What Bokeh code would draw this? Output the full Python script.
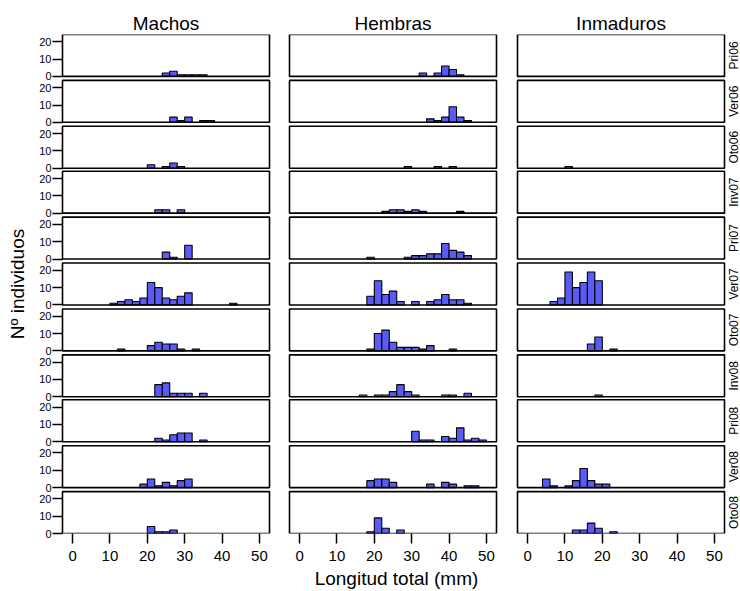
import math
from bokeh.plotting import figure
from bokeh.models import (Range1d, FixedTicker, ColumnDataSource, LinearAxis,
                          AllLabels)
from bokeh.core.properties import value
from bokeh.embed import file_html
from bokeh.resources import INLINE

seasons = ["Pri06", "Ver06", "Oto06", "Inv07", "Pri07", "Ver07",
           "Oto07", "Inv08", "Pri08", "Ver08", "Oto08"]
groups = ["Machos", "Hembras", "Inmaduros"]

# left edges of the 2-mm length classes (0-2, 2-4, ..., 48-50)
bin_starts = [0, 2, 4, 6, 8, 10, 12, 14, 16, 18, 20, 22, 24,
              26, 28, 30, 32, 34, 36, 38, 40, 42, 44, 46, 48]
bin_width = 2

machos = {
    "Pri06": [0,0,0,0,0,0,0,0,0,0,0,0,2,3,1,1,1,1,0,0,0,0,0,0,0],
    "Ver06": [0,0,0,0,0,0,0,0,0,0,0,0,0,3,1,3,0,1,1,0,0,0,0,0,0],
    "Oto06": [0,0,0,0,0,0,0,0,0,0,2,0,1,3,1,0,0,0,0,0,0,0,0,0,0],
    "Inv07": [0,0,0,0,0,0,0,0,0,0,0,2,2,0,2,0,0,0,0,0,0,0,0,0,0],
    "Pri07": [0,0,0,0,0,0,0,0,0,0,0,0,4,1,0,8,0,0,0,0,0,0,0,0,0],
    "Ver07": [0,0,0,0,0,1,2,3,2,4,13,10,4,3,5,7,0,0,0,0,0,1,0,0,0],
    "Oto07": [0,0,0,0,0,0,1,0,0,0,3,5,4,4,1,0,1,0,0,0,0,0,0,0,0],
    "Inv08": [0,0,0,0,0,0,0,0,0,0,0,7,8,2,2,2,0,2,0,0,0,0,0,0,0],
    "Pri08": [0,0,0,0,0,0,0,0,0,0,0,2,1,4,5,5,0,1,0,0,0,0,0,0,0],
    "Ver08": [0,0,0,0,0,0,0,0,0,2,5,1,3,1,4,5,0,0,0,0,0,0,0,0,0],
    "Oto08": [0,0,0,0,0,0,0,0,0,0,4,1,1,2,0,0,0,0,0,0,0,0,0,0,0],
}

hembras = {
    "Pri06": [0,0,0,0,0,0,0,0,0,0,0,0,0,0,0,0,2,0,2,6,4,1,0,0,0],
    "Ver06": [0,0,0,0,0,0,0,0,0,0,0,0,0,0,0,0,0,2,1,3,9,3,1,0,0],
    "Oto06": [0,0,0,0,0,0,0,0,0,0,0,0,0,0,1,0,0,0,1,0,1,0,0,0,0],
    "Inv07": [0,0,0,0,0,0,0,0,0,0,0,1,2,2,1,2,1,0,0,0,0,1,0,0,0],
    "Pri07": [0,0,0,0,0,0,0,0,0,1,0,0,0,0,1,2,2,3,3,9,5,4,2,0,0],
    "Ver07": [0,0,0,0,0,0,0,0,0,5,14,6,8,2,0,2,0,2,3,6,3,3,1,0,0],
    "Oto07": [0,0,0,0,0,0,0,0,0,1,10,12,5,2,2,2,1,3,0,0,1,0,0,0,0],
    "Inv08": [0,0,0,0,0,0,0,0,1,0,1,1,3,7,3,1,0,0,0,1,1,0,2,0,0],
    "Pri08": [0,0,0,0,0,0,0,0,0,0,0,0,0,0,0,6,1,1,0,3,2,8,1,2,1],
    "Ver08": [0,0,0,0,0,0,0,0,0,4,5,5,3,0,0,0,0,2,0,3,2,0,1,1,0],
    "Oto08": [0,0,0,0,0,0,0,0,0,1,9,3,0,2,0,0,0,0,0,0,0,0,0,0,0],
}

inmaduros = {
    "Pri06": [0,0,0,0,0,0,0,0,0,0,0,0,0,0,0,0,0,0,0,0,0,0,0,0,0],
    "Ver06": [0,0,0,0,0,0,0,0,0,0,0,0,0,0,0,0,0,0,0,0,0,0,0,0,0],
    "Oto06": [0,0,0,0,0,1,0,0,0,0,0,0,0,0,0,0,0,0,0,0,0,0,0,0,0],
    "Inv07": [0,0,0,0,0,0,0,0,0,0,0,0,0,0,0,0,0,0,0,0,0,0,0,0,0],
    "Pri07": [0,0,0,0,0,0,0,0,0,0,0,0,0,0,0,0,0,0,0,0,0,0,0,0,0],
    "Ver07": [0,0,0,2,4,19,10,13,19,14,0,0,0,0,0,0,0,0,0,0,0,0,0,0,0],
    "Oto07": [0,0,0,0,0,0,0,0,4,8,0,1,0,0,0,0,0,0,0,0,0,0,0,0,0],
    "Inv08": [0,0,0,0,0,0,0,0,0,1,0,0,0,0,0,0,0,0,0,0,0,0,0,0,0],
    "Pri08": [0,0,0,0,0,0,0,0,0,0,0,0,0,0,0,0,0,0,0,0,0,0,0,0,0],
    "Ver08": [0,0,5,1,0,1,4,11,4,2,2,0,0,0,0,0,0,0,0,0,0,0,0,0,0],
    "Oto08": [0,0,0,0,0,0,2,2,6,3,0,1,0,0,0,0,0,0,0,0,0,0,0,0,0],
}

x_ticks = [0, 10, 20, 30, 40, 50]
y_ticks = [0, 10, 20]
x_title = "Longitud total (mm)"
y_title = "Nº individuos"

FONT = "Liberation Sans"
BAR_FILL = "#5A5AF6"

# ---- panel layout (pixels) -------------------------------------------
W, H = 740, 591
FR_L, FR_R, FR_T, FR_B = 52, 740, 34, 534       # plotting frame
PANEL_W, PANEL_H = 207, 42
col_px = [62, 289, 517]                           # panel left edges
row_pitch_px = 45.8
STRIP_PX = 733                                    # centre of strip labels
X_LO, X_HI = -2.7, 52.7                           # panel x range (mm)
Y_LO, Y_HI = 0.0, 24.2                            # panel y range (count)

px_mm = PANEL_W / (X_HI - X_LO)
px_cnt = PANEL_H / (Y_HI - Y_LO)
col_off = [(cx - col_px[0]) / px_mm for cx in col_px]
row_top_px = [FR_T + round(r * row_pitch_px) for r in range(len(seasons))]
row_off = [(FR_B - (t + PANEL_H)) / px_cnt for t in row_top_px]

p = figure(
    width=W, height=H,
    x_range=Range1d(X_LO + (FR_L - col_px[0]) / px_mm,
                    X_LO + (FR_R - col_px[0]) / px_mm),
    y_range=Range1d(Y_LO, Y_LO + (FR_B - FR_T) / px_cnt),
    x_axis_location="below", y_axis_location="left",
    toolbar_location=None, output_backend="svg",
    min_border_left=FR_L, min_border_right=W - FR_R,
    min_border_top=FR_T, min_border_bottom=H - FR_B,
)
p.grid.visible = False
p.outline_line_color = None
p.background_fill_color = "white"
p.border_fill_color = "white"

data_by_group = [machos, hembras, inmaduros]

# panel boxes and bars
box_l, box_r, box_b, box_t = [], [], [], []
bar_l, bar_r, bar_b, bar_t = [], [], [], []
for r, season in enumerate(seasons):
    for c, grp in enumerate(groups):
        box_l.append(X_LO + col_off[c]); box_r.append(X_HI + col_off[c])
        box_b.append(Y_LO + row_off[r]); box_t.append(Y_HI + row_off[r])
        for b, n in zip(bin_starts, data_by_group[c][season]):
            if n > 0:
                bar_l.append(b + col_off[c])
                bar_r.append(b + bin_width + col_off[c])
                bar_b.append(row_off[r])
                bar_t.append(n + row_off[r])

p.quad(left="l", right="r", bottom="b", top="t",
       source=ColumnDataSource(dict(l=bar_l, r=bar_r, b=bar_b, t=bar_t)),
       fill_color=BAR_FILL, line_color="black", line_width=1.1)
p.quad(left="l", right="r", bottom="b", top="t",
       source=ColumnDataSource(dict(l=box_l, r=box_r, b=box_b, t=box_t)),
       fill_color=None, line_color="black", line_width=1.6)

# strip labels (season) to the right of the last column
strip_x = X_LO + (STRIP_PX - col_px[0]) / px_mm
p.text(x=[strip_x] * len(seasons),
       y=[(Y_LO + Y_HI) / 2 + o for o in row_off],
       text=seasons, angle=math.pi / 2,
       text_align="center", text_baseline="middle",
       text_font=value(FONT), text_font_size="12px", text_color="black")


def style_axis(ax, size, tick_out, tick_in=0):
    ax.axis_line_color = None
    ax.major_tick_out = tick_out
    ax.major_tick_in = tick_in
    ax.minor_tick_out = 0
    ax.minor_tick_in = 0
    ax.major_tick_line_color = "black" if (tick_out or tick_in) else None
    ax.major_tick_line_width = 1.5
    ax.major_label_text_font = FONT
    ax.major_label_text_font_size = size
    ax.major_label_text_color = "black"
    ax.major_label_policy = AllLabels()


# left axis: 0/10/20 for each row (ticks reach the panel edge)
yax = p.yaxis[0]
yt, ylab = [], {}
for r in range(len(seasons)):
    for v in y_ticks:
        t = v + row_off[r]
        yt.append(t)
        ylab[t] = str(v)
yax.ticker = FixedTicker(ticks=yt)
yax.major_label_overrides = ylab
style_axis(yax, "11px", 0, col_px[0] - FR_L)
yax.major_label_standoff = 1
yax.axis_label = y_title
yax.axis_label_text_font = FONT
yax.axis_label_text_font_size = "19px"
yax.axis_label_text_font_style = "normal"
yax.axis_label_text_color = "black"
yax.axis_label_standoff = 8

# bottom axis: 0..50 under each column
xax = p.xaxis[0]
xt, xlab = [], {}
for c in range(len(groups)):
    for v in x_ticks:
        t = v + col_off[c]
        xt.append(t)
        xlab[t] = str(v)
xax.ticker = FixedTicker(ticks=xt)
xax.major_label_overrides = xlab
style_axis(xax, "15px", 10)
xax.major_label_standoff = 7
xax.axis_label = x_title
xax.axis_label_text_font = FONT
xax.axis_label_text_font_size = "19px"
xax.axis_label_text_font_style = "normal"
xax.axis_label_text_color = "black"
xax.axis_label_standoff = 4

# top axis: column (group) titles
tax = LinearAxis()
tt, tlab = [], {}
for c, grp in enumerate(groups):
    t = (X_LO + X_HI) / 2 + col_off[c]
    tt.append(t)
    tlab[t] = grp
tax.ticker = FixedTicker(ticks=tt)
tax.major_label_overrides = tlab
style_axis(tax, "19px", 0)
tax.major_label_standoff = 1
p.add_layout(tax, "above")

open("out.html", "w").write(file_html(p, INLINE))
